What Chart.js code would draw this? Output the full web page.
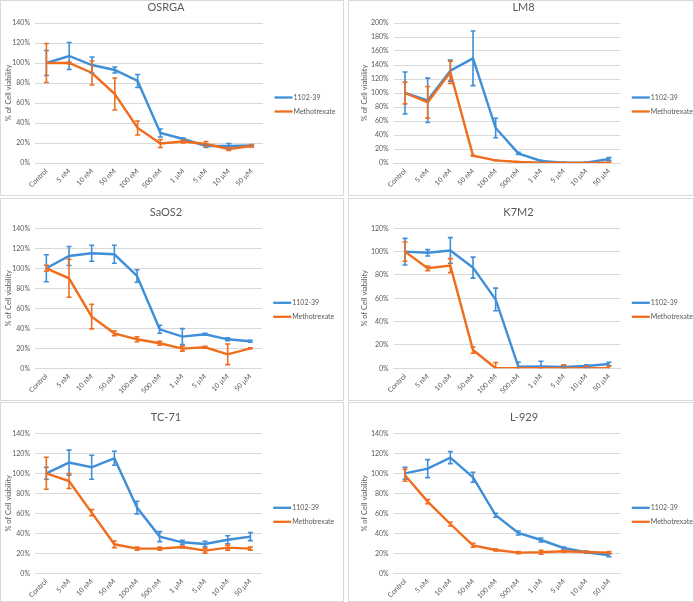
<!DOCTYPE html>
<html>
<head>
<meta charset="utf-8">
<script src="https://cdn.jsdelivr.net/npm/chart.js@4.4.1/dist/chart.umd.min.js"></script>
<style>
  body { margin: 0; background: #fff; }
  .panel { position: absolute; border: 1px solid #d9d9d9; background: #fff; }
  .panel canvas { display: block; }
</style>
</head>
<body>
<div class="panel" style="left:0px;top:0px"><canvas id="osrga" width="342" height="194"></canvas></div>
<div class="panel" style="left:348px;top:0px"><canvas id="lm8" width="344" height="194"></canvas></div>
<div class="panel" style="left:0px;top:198px"><canvas id="saos2" width="342" height="201"></canvas></div>
<div class="panel" style="left:348px;top:198px"><canvas id="k7m2" width="344" height="201"></canvas></div>
<div class="panel" style="left:0px;top:402px"><canvas id="tc71" width="342" height="198"></canvas></div>
<div class="panel" style="left:348px;top:402px"><canvas id="l929" width="344" height="198"></canvas></div>
<script>
const doses = ["Control", "5 nM", "10 nM", "50 nM", "100 nM", "500 nM", "1 µM", "5 µM", "10 µM", "50 µM"];
const seriesNames = ["1102-39", "Methotrexate"];

// OSRGA
const osrgaDrug = [100, 107, 98, 93, 82, 30, 24, 17, 17, 17.5];
const osrgaDrugErr = [12.5, 13.5, 8, 3, 6.5, 4, 1, 1.5, 2.5, 1];
const osrgaMtx = [100, 100, 90, 69, 35, 19.5, 21.5, 19, 14, 17];
const osrgaMtxErr = [19.5, 1, 12, 16, 7, 4, 1.5, 2.5, 1.5, 1];

// LM8
const lm8Drug = [100, 89.5, 132, 149.5, 50, 13.8, 2.9, 0.5, 0.5, 5.7];
const lm8DrugErr = [30, 31.7, 15, 39, 14, 1.5, 1, 0.5, 1, 2];
const lm8Mtx = [100, 86.7, 129.5, 10.5, 3.8, 1.4, 0.5, 0.2, 0.2, 0.5];
const lm8MtxErr = [15.5, 22.6, 16, 0.5, 0.5, 0.5, 0.3, 0.3, 0.3, 1];

// SaOS2
const saos2Drug = [100, 112.3, 115, 114, 92.3, 39, 31.7, 34, 29, 27];
const saos2DrugErr = [13.5, 9.5, 8, 9, 6.3, 4, 8, 1, 1.5, 1];
const saos2Mtx = [100, 90, 51.7, 35, 29, 25, 19.7, 21, 14, 20];
const saos2MtxErr = [3, 19, 12.3, 2.3, 2.5, 2, 2.5, 1, 10.3, 0.5];

// K7M2
const k7m2Drug = [100, 99, 101, 86.3, 59, 1.4, 1.5, 1.1, 2, 3.7];
const k7m2DrugErr = [11.4, 2.7, 11, 9, 9.7, 4, 4.5, 1, 1, 1.5];
const k7m2Mtx = [100, 85.7, 88, 15.7, 0, 0, 0, 0, 0, 0];
const k7m2MtxErr = [8.3, 2, 6, 2.8, 5, 0.5, 0.5, 3, 2, 2];

// TC-71
const tc71Drug = [100, 110.7, 106, 115, 65.7, 36.7, 31, 29.3, 33.5, 36.7];
const tc71DrugErr = [6, 12.5, 12, 7, 6.3, 5, 2, 2.7, 4, 4];
const tc71Mtx = [100, 92.3, 60.7, 29, 24.7, 24.7, 26.3, 22.7, 25.7, 24.7];
const tc71MtxErr = [16, 7.5, 3, 3.3, 1.5, 1.5, 1, 2.5, 2.5, 1.5];

// L-929
const l929Drug = [100, 104.7, 115.7, 96, 58, 40.3, 33.3, 25.3, 21, 18];
const l929DrugErr = [6, 9, 6, 5, 2, 2, 2, 1, 1, 1.5];
const l929Mtx = [98, 71.7, 49.3, 28, 23.3, 20.7, 21, 22, 21.3, 20.7];
const l929MtxErr = [6, 2, 2, 2, 1, 1, 2, 1, 1, 1];

const BLUE = "#3f8fd8";
const ORANGE = "#f06d1e";
const GRID = "#d9d9d9";
const TEXT = "#595959";
const FONT = "Lato, 'Open Sans', sans-serif";

// error bars drawn from the y scale of each chart
const errorBars = {
  id: "errorBars",
  afterDatasetsDraw(chart) {
    const { ctx, chartArea } = chart;
    const y = chart.scales.y;
    ctx.save();
    ctx.beginPath();
    ctx.rect(chartArea.left, chartArea.top - 3, chartArea.width, chartArea.height + 3);
    ctx.clip();
    chart.data.datasets.forEach((ds, i) => {
      const meta = chart.getDatasetMeta(i);
      ctx.strokeStyle = ds.borderColor;
      ctx.lineWidth = 1.6;
      meta.data.forEach((pt, j) => {
        const v = ds.data[j];
        const e = ds.errors[j];
        const top = y.getPixelForValue(v + e);
        const bot = y.getPixelForValue(v - e);
        ctx.beginPath();
        ctx.moveTo(pt.x, top);
        ctx.lineTo(pt.x, bot);
        ctx.moveTo(pt.x - 2.5, top);
        ctx.lineTo(pt.x + 2.5, top);
        ctx.moveTo(pt.x - 2.5, bot);
        ctx.lineTo(pt.x + 2.5, bot);
        ctx.stroke();
      });
    });
    ctx.restore();
  },
};

// Excel-like legend to the right of the plot area
const sideLegend = {
  id: "sideLegend",
  afterDraw(chart) {
    const { ctx, chartArea } = chart;
    const mid = (chartArea.top + chartArea.bottom) / 2 + 11.5;
    ctx.save();
    ctx.font = "7px " + FONT;
    ctx.textBaseline = "middle";
    ctx.textAlign = "left";
    chart.data.datasets.forEach((ds, i) => {
      const y = mid + (i - 0.5) * 14;
      ctx.strokeStyle = ds.borderColor;
      ctx.lineWidth = 2.3;
      ctx.beginPath();
      ctx.moveTo(chartArea.right + 11.5, y);
      ctx.lineTo(chartArea.right + 29.5, y);
      ctx.stroke();
      ctx.fillStyle = TEXT;
      ctx.fillText(ds.label, chartArea.right + 30.5, y);
    });
    ctx.restore();
  },
};

function buildChart(id, title, drug, drugErr, mtx, mtxErr, yMax, g) {
  const canvas = document.getElementById(id);
  const padRight = g.padLeft + canvas.width - 2 * g.titleX;
  return new Chart(canvas, {
    type: "line",
    data: {
      labels: doses,
      datasets: [
        { label: seriesNames[0], data: drug, errors: drugErr, borderColor: BLUE, backgroundColor: BLUE, order: 1 },
        { label: seriesNames[1], data: mtx, errors: mtxErr, borderColor: ORANGE, backgroundColor: ORANGE, order: 0 },
      ],
    },
    options: {
      responsive: false,
      animation: false,
      layout: { padding: { left: g.padLeft, top: g.top - 22.2, right: padRight, bottom: 0 } },
      elements: {
        line: { borderWidth: 2.4, tension: 0 },
        point: { radius: 0, hoverRadius: 0 },
      },
      plugins: {
        title: {
          display: true,
          text: title,
          color: TEXT,
          font: { family: FONT, size: 11, weight: "normal" },
          padding: { top: 0, bottom: 9 },
        },
        legend: { display: false },
        tooltip: { enabled: false },
      },
      scales: {
        x: {
          offset: true,
          grid: { display: false, drawTicks: false },
          border: { color: GRID },
          ticks: {
            color: TEXT,
            font: { family: FONT, size: 7 },
            maxRotation: 45,
            minRotation: 45,
            padding: 4,
            autoSkip: false,
          },
          afterFit: (s) => { s.height = canvas.height - g.bottom; },
        },
        y: {
          min: 0,
          max: yMax,
          ticks: {
            stepSize: 20,
            callback: (v) => v + "%",
            color: TEXT,
            font: { family: FONT, size: 7 },
            padding: 5,
          },
          grid: { color: GRID, drawTicks: false },
          border: { display: false },
          title: {
            display: true,
            text: "% of Cell viability",
            color: TEXT,
            font: { family: FONT, size: 7.5 },
            padding: { top: 3, bottom: 0 },
          },
          afterFit: (s) => { s.width = g.left - g.padLeft; },
        },
        // empty right-hand strip that holds the legend
        legendSpace: {
          axis: "y",
          position: "right",
          grid: { display: false, drawTicks: false },
          border: { display: false },
          ticks: { display: false },
          afterFit: (s) => { s.width = canvas.width - padRight - g.right; },
        },
      },
    },
    plugins: [errorBars, sideLegend],
  });
}

buildChart("osrga", "OSRGA", osrgaDrug, osrgaDrugErr, osrgaMtx, osrgaMtxErr, 140,
  { padLeft: 0, left: 34, top: 22, right: 262, bottom: 162, titleX: 165 });
buildChart("lm8", "LM8", lm8Drug, lm8DrugErr, lm8Mtx, lm8MtxErr, 200,
  { padLeft: 8, left: 44.7, top: 22, right: 271.3, bottom: 162, titleX: 174.5 });
buildChart("saos2", "SaOS2", saos2Drug, saos2DrugErr, saos2Mtx, saos2MtxErr, 140,
  { padLeft: 0, left: 34, top: 29.3, right: 260.7, bottom: 169.3, titleX: 165 });
buildChart("k7m2", "K7M2", k7m2Drug, k7m2DrugErr, k7m2Mtx, k7m2MtxErr, 120,
  { padLeft: 8, left: 44.7, top: 29.3, right: 271.3, bottom: 169.3, titleX: 169.5 });
buildChart("tc71", "TC-71", tc71Drug, tc71DrugErr, tc71Mtx, tc71MtxErr, 140,
  { padLeft: 0, left: 34, top: 30.3, right: 260.7, bottom: 170.3, titleX: 165 });
buildChart("l929", "L-929", l929Drug, l929DrugErr, l929Mtx, l929MtxErr, 140,
  { padLeft: 8, left: 44.7, top: 30.3, right: 271.3, bottom: 170.3, titleX: 175 });
</script>
</body>
</html>
